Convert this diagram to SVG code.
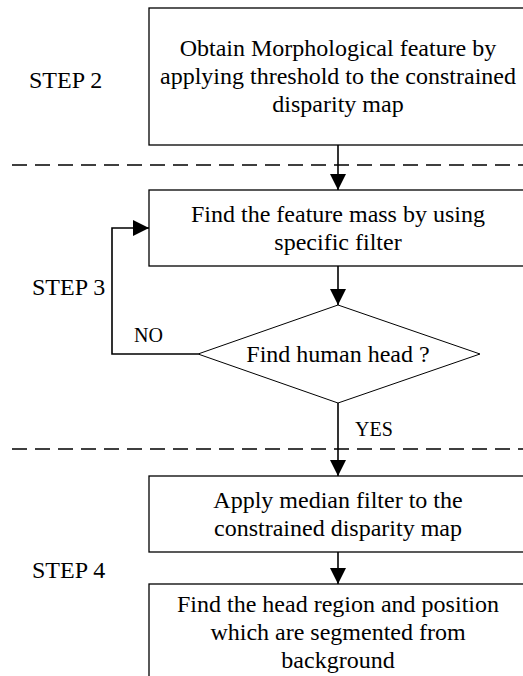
<svg xmlns="http://www.w3.org/2000/svg" width="523" height="676" viewBox="0 0 523 676">
<style>
.box{fill:#fff;stroke:#000;stroke-width:1.3}
.dia{fill:#fff;stroke:#000;stroke-width:1}
.t{font-family:"Liberation Serif","Times New Roman",serif;font-size:24px;fill:#000;text-anchor:middle}
.s{font-family:"Liberation Serif","Times New Roman",serif;font-size:24px;fill:#000}
.l{font-family:"Liberation Serif","Times New Roman",serif;font-size:20px;fill:#000}
.c{fill:none;stroke:#000;stroke-width:1.6}
.d{fill:none;stroke:#000;stroke-width:1.6;stroke-dasharray:15 8}
</style>
<defs>
<marker id="ah" markerUnits="userSpaceOnUse" markerWidth="17" markerHeight="17" refX="16" refY="8" orient="auto">
<path d="M0,0 L16,8 L0,16 Z" fill="#000"/>
</marker>
</defs>
<rect width="523" height="676" fill="#fff"/>
<g id="dividers">
<line class="d" x1="12" y1="165" x2="523" y2="165"/>
<line class="d" x1="12" y1="449" x2="523" y2="449"/>
</g>
<g id="labels">
<text class="s" x="29" y="88">STEP 2</text>
<text class="s" x="32" y="295">STEP 3</text>
<text class="s" x="32" y="578">STEP 4</text>
</g>
<g id="n1">
<rect class="box" x="149" y="8" width="378" height="137"/>
<text class="t" x="338" y="56">Obtain Morphological feature by</text>
<text class="t" x="338" y="84">applying threshold to the constrained</text>
<text class="t" x="338" y="112">disparity map</text>
</g>
<g id="n2">
<rect class="box" x="149" y="190" width="378" height="76"/>
<text class="t" x="338" y="222">Find the feature mass by using</text>
<text class="t" x="338" y="250">specific filter</text>
</g>
<g id="n3">
<polygon class="dia" points="338,305 480,354 338,403 198,354"/>
<text class="t" x="338" y="362">Find human head ?</text>
</g>
<g id="n4">
<rect class="box" x="149" y="476" width="378" height="76"/>
<text class="t" x="338" y="508">Apply median filter to the</text>
<text class="t" x="338" y="536">constrained disparity map</text>
</g>
<g id="n5">
<rect class="box" x="149" y="584" width="378" height="120"/>
<text class="t" x="338" y="612">Find the head region and position</text>
<text class="t" x="338" y="640">which are segmented from</text>
<text class="t" x="338" y="668">background</text>
</g>
<g id="connectors">
<line class="c" x1="338" y1="145" x2="338" y2="190" marker-end="url(#ah)"/>
<line class="c" x1="338" y1="266" x2="338" y2="305" marker-end="url(#ah)"/>
<polyline class="c" points="198,354 112,354 112,228 149,228" marker-end="url(#ah)"/>
<line class="c" x1="338" y1="403" x2="338" y2="476" marker-end="url(#ah)"/>
<line class="c" x1="338" y1="552" x2="338" y2="584" marker-end="url(#ah)"/>
<text class="l" x="134" y="342">NO</text>
<text class="l" x="355" y="436">YES</text>
</g>
</svg>
